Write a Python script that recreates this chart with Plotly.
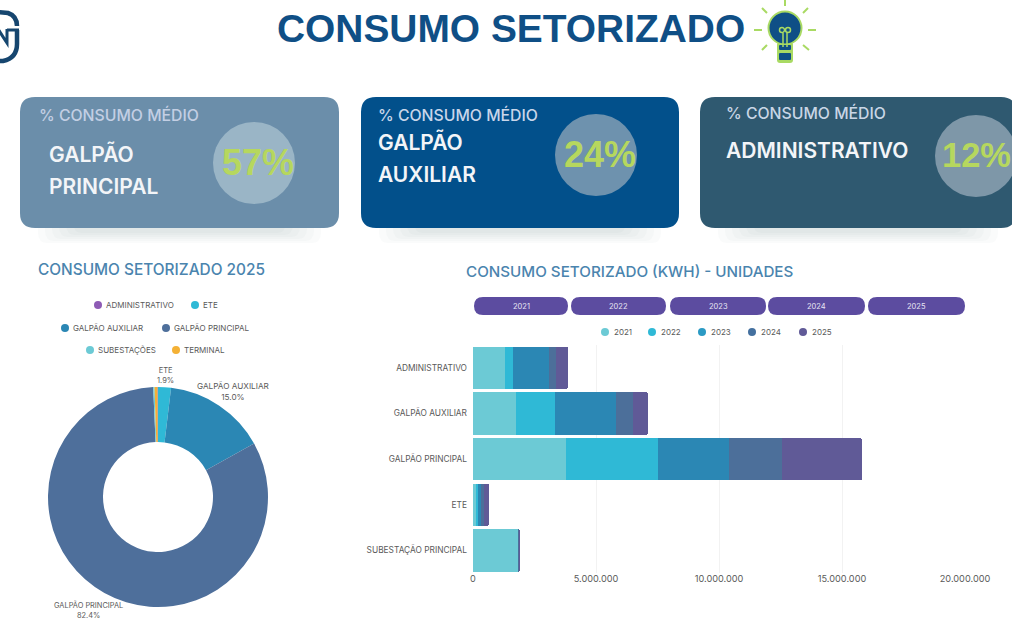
import plotly.graph_objects as go

W, H = 1012, 619
def px(x): return x / W
def py(y): return 1 - y / H

# ---- data ----
YEARS = ["2021", "2022", "2023", "2024", "2025"]
SECTORS = ["ADMINISTRATIVO", "GALPÃO AUXILIAR", "GALPÃO PRINCIPAL", "ETE", "SUBESTAÇÃO PRINCIPAL"]
V2021 = [1300000, 1740000, 3800000, 110000, 1830000]
V2022 = [330000, 1600000, 3720000, 100000, 20000]
V2023 = [1440000, 2480000, 2890000, 110000, 15000]
V2024 = [300000, 690000, 2150000, 110000, 15000]
V2025 = [490000, 610000, 3250000, 220000, 15000]
SERIES = [V2021, V2022, V2023, V2024, V2025]
YEAR_COLORS = ["#6CCAD5", "#2FB9D6", "#2B87B4", "#4C6F9A", "#605A97"]

PIE_LABELS = ["ETE", "GALPÃO AUXILIAR", "GALPÃO PRINCIPAL", "SUBESTAÇÕES", "TERMINAL", "ADMINISTRATIVO"]
PIE_VALUES = [1.9, 15.0, 82.4, 0.2, 0.45, 0.05]
PIE_COLORS = ["#2FB9D6", "#2B87B4", "#4E6F9B", "#6CCAD5", "#F4B135", "#8E5BB5"]

CARD_HEAD = "% CONSUMO MÉDIO"
CARD_PCT = ["57%", "24%", "12%"]
NAVY = "#0F4F86"
GREEN = "#B6D75E"
GREY = "#5A5A5A"
BODY = "Inter"

fig = go.Figure()

for year, vals, col in zip(YEARS, SERIES, YEAR_COLORS):
    fig.add_trace(go.Bar(y=SECTORS, x=vals, name=year, orientation="h",
                         marker=dict(color=col, line=dict(width=0)), showlegend=False,
                         xaxis="x", yaxis="y"))

fig.add_trace(go.Pie(labels=PIE_LABELS, values=PIE_VALUES, hole=0.5, sort=False,
                     direction="clockwise", rotation=0, textinfo="none",
                     marker=dict(colors=PIE_COLORS, line=dict(width=0)), showlegend=False,
                     domain=dict(x=[px(48), px(268)], y=[py(607), py(387)])))

shapes, ann = [], []

def rrect(x0, y0, x1, y1, r, **kw):
    p = (f"M{px(x0+r)},{py(y0)} L{px(x1-r)},{py(y0)} Q{px(x1)},{py(y0)} {px(x1)},{py(y0+r)} "
         f"L{px(x1)},{py(y1-r)} Q{px(x1)},{py(y1)} {px(x1-r)},{py(y1)} L{px(x0+r)},{py(y1)} "
         f"Q{px(x0)},{py(y1)} {px(x0)},{py(y1-r)} L{px(x0)},{py(y0+r)} Q{px(x0)},{py(y0)} {px(x0+r)},{py(y0)} Z")
    shapes.append(dict(type="path", path=p, xref="paper", yref="paper", line=dict(width=0), **kw))

def circle(cx, cy, r, color, line=None, lw=0):
    shapes.append(dict(type="circle", xref="paper", yref="paper", x0=px(cx-r), x1=px(cx+r),
                       y0=py(cy+r), y1=py(cy-r), fillcolor=color,
                       line=dict(width=lw, color=line or color)))

def seg(x0, y0, x1, y1, color, w):
    shapes.append(dict(type="line", xref="paper", yref="paper", x0=px(x0), x1=px(x1),
                       y0=py(y0), y1=py(y1), line=dict(color=color, width=w)))

def text(x, y, s, size, color, family=BODY, anchor="left", weight=None):
    ann.append(dict(x=px(x), y=py(y), xref="paper", yref="paper", text=s, showarrow=False,
                    xanchor=anchor, yanchor="middle", align="center" if anchor == "center" else anchor,
                    font=dict(size=size, color=color, family=family, weight=weight),
                    borderpad=0, borderwidth=0))

# title
text(511, 29, "CONSUMO SETORIZADO", 38.9, NAVY, "Liberation Sans", "center", 700)

# cards
cards = [(20, 339, "#6B8EAA", 254, 163, "#9AB5C6"),
         (361, 679, "#02508B", 596, 155, "#6E92AE"),
         (700, 1016, "#2F5970", 976, 156, "#7E97A8")]
for x0, x1, col, cx, cy, ccol in cards:
    for i in range(6):
        rrect(x0 + 18 + 7 * i, 205, x1 - 18 - 7 * i, 243 - 2 * i, 10, fillcolor="rgba(60,70,80,0.022)")
    rrect(x0, 97, x1, 228, 15, fillcolor=col)
    circle(cx, cy, 41, ccol)

text(39, 115, CARD_HEAD, 15.8, "#C3CFE4", weight=500)
text(378, 115, CARD_HEAD, 15.8, "#C9D6EA", weight=500)
text(726, 113, CARD_HEAD, 15.8, "#C9D6E6", weight=500)
text(49, 154, "GALPÃO", 21, "#F3F5F8", weight=600)
text(49, 186, "PRINCIPAL", 21, "#F3F5F8", weight=600)
text(378, 142, "GALPÃO", 21, "#F3F5F8", weight=600)
text(378, 174, "AUXILIAR", 21, "#F3F5F8", weight=600)
text(726, 150, "ADMINISTRATIVO", 21, "#F3F5F8", weight=600)
text(258, 162, CARD_PCT[0], 36, GREEN, "Liberation Sans", "center", 700)
text(600, 154, CARD_PCT[1], 36, GREEN, "Liberation Sans", "center", 700)
text(976, 155, CARD_PCT[2], 34.5, GREEN, "Liberation Sans", "center", 700)

# section titles
text(38, 270, "CONSUMO SETORIZADO 2025", 15.4, "#4A84AE", weight=500)
text(466, 271, "CONSUMO SETORIZADO (KWH) - UNIDADES", 15.2, "#4A84AE", weight=500)

# pie legend
pie_legend = [(98, 305, "ADMINISTRATIVO", "#8E5BB5"), (195, 305, "ETE", "#2FB9D6"),
              (65, 328, "GALPÃO AUXILIAR", "#2B87B4"), (166, 328, "GALPÃO PRINCIPAL", "#4E6F9B"),
              (90, 350, "SUBESTAÇÕES", "#6CCAD5"), (176, 350, "TERMINAL", "#F4B135")]
for x, y, s, c in pie_legend:
    circle(x, y, 4, c)
    text(x + 8, y, s, 8, GREY)

# pie labels
text(165, 375, "ETE<br>1.9%", 7.5, GREY, anchor="center")
text(233, 391, "GALPÃO AUXILIAR<br>15.0%", 8.2, GREY, anchor="center")
text(88, 610, "GALPÃO PRINCIPAL<br>82.4%", 7.4, GREY, anchor="center")

# year pills
pills = [(474, 568), (571, 666), (670, 766), (768, 865), (868, 965)]
for (x0, x1), y in zip(pills, YEARS):
    rrect(x0, 297, x1, 315, 9, fillcolor="#5C4CA0")
    text((x0 + x1) / 2, 306, y, 7.5, "#E8E6F4", anchor="center")

# bar legend
for x, y, c in zip([605, 652, 702, 752, 803], YEARS, ["#6CCAD5", "#2FB9D6", "#2B9AC4", "#44709F", "#605A97"]):
    circle(x, 332, 4, c)
    text(x + 9, 332, y, 8, GREY)

# logo
shapes.append(dict(type="path", xref="paper", yref="paper", line=dict(color="#16466F", width=4.5),
                   path=f"M{px(-4)},{py(12)} L{px(8)},{py(13)} Q{px(17)},{py(16)} {px(17)},{py(26)} "
                        f"M{px(17)},{py(30)} L{px(17)},{py(44)} Q{px(17)},{py(58)} {px(3)},{py(61)} L{px(-4)},{py(61)}"))
shapes.append(dict(type="path", xref="paper", yref="paper", line=dict(color="#16466F", width=3),
                   path=f"M{px(-2)},{py(29)} L{px(7)},{py(43)} L{px(7)},{py(29)} M{px(7)},{py(30)} L{px(19)},{py(30)}"))

# bulb
LG = "#A9DA63"
for x0, y0, x1, y1 in [(785, 0, 785, 6), (762, 30, 754, 30), (816, 30, 808, 30), (767, 13, 762, 8),
                       (803, 13, 808, 8), (767, 45, 762, 50), (803, 45, 809, 50)]:
    seg(x0, y0, x1, y1, LG, 2)
rrect(777, 42, 793, 63, 3, fillcolor=LG)
circle(785, 28, 16.5, "#0F4F86", LG, 2)
rrect(779, 45, 791, 50, 1, fillcolor="#0F4F86")
rrect(779, 53, 791, 60, 1, fillcolor="#0F4F86")
seg(783, 33, 783, 47, LG, 1.5)
seg(787, 33, 787, 47, LG, 1.5)
circle(782, 30, 2.5, "#0F4F86", LG, 1.5)
circle(788, 30, 2.5, "#0F4F86", LG, 1.5)

fig.update_layout(
    width=W, height=H, margin=dict(l=0, r=0, t=0, b=0, pad=0), paper_bgcolor="white",
    plot_bgcolor="white", autosize=False, barmode="stack", bargap=0.07, barcornerradius=2,
    separators=",.", shapes=shapes, annotations=ann, showlegend=False,
    xaxis=dict(domain=[px(473), px(965)], range=[0, 20000000], tickvals=[0, 5000000, 10000000, 15000000, 20000000],
               tickformat=",d", showgrid=True, gridcolor="#F2F2F2", gridwidth=1, zeroline=False, automargin=False,
               showline=False, ticks="", anchor="y", tickfont=dict(size=9.2, color=GREY, family=BODY),
               ticklabelstandoff=-2),
    yaxis=dict(domain=[py(573.3), py(345)], autorange="reversed", showgrid=False, zeroline=False, automargin=False,
               showline=False, ticks="", anchor="x", ticklabelstandoff=5,
               tickfont=dict(size=8.35, color=GREY, family=BODY)),
)

fig.write_html("out.html", config=dict(displayModeBar=False),
               post_script="document.body.style.margin='0';document.body.style.overflow='hidden';")
